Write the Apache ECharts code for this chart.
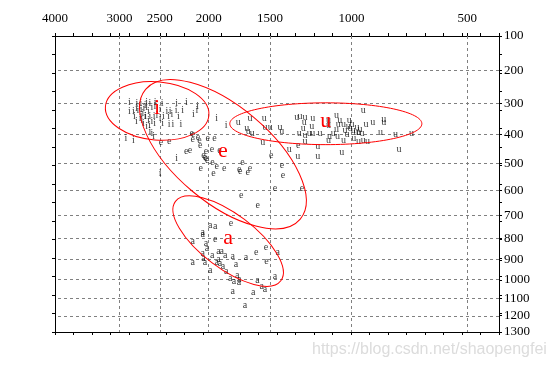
<!DOCTYPE html>
<html><head><meta charset="utf-8">
<script src="https://cdn.jsdelivr.net/npm/echarts@6/dist/echarts.min.js"></script>
<style>html,body{margin:0;padding:0;background:#fff}#c{width:554px;height:369px}</style>
</head><body><div id="c"></div>
<script>
// Formant values on a Bark scale (Schroeder: z = 7*asinh(f/650)); F2 horizontal, F1 vertical.
const iF2 = [15.33,15.10,14.98,14.80,14.70,14.54,14.33,13.88,13.58,13.24,13.26,15.33,15.21,15.07,14.97,14.89,14.80,14.64,14.55,14.39,14.18,14.08,13.90,13.70,13.37,14.97,14.83,14.70,14.57,14.75,14.64,14.56,14.90,14.80,15.12,15.00,15.18,13.83,14.03,14.13,14.29,13.75,14.00,14.11,14.39,14.31,12.65,12.36,15.44,15.21,14.70,14.64,14.59,13.88,14.39,14.85,14.92,14.75,15.02,14.85,15.12,14.95,14.72,14.49];
const iF1 = [3.10,3.13,3.13,3.11,3.13,3.10,3.13,3.13,3.10,3.23,3.33,3.36,3.36,3.33,3.31,3.28,3.26,3.26,3.23,3.31,3.38,3.38,3.34,3.34,3.46,3.49,3.54,3.52,3.54,3.64,3.69,3.74,3.74,3.84,3.69,3.59,3.52,3.52,3.46,3.54,3.54,3.76,3.76,3.77,3.59,3.74,3.59,3.79,4.20,4.25,3.97,4.04,4.13,4.80,5.27,3.54,3.42,3.38,3.23,3.18,3.28,3.64,3.79,3.49];
const eF2 = [13.37,13.39,13.23,13.18,12.93,12.72,14.36,14.11,13.59,13.47,13.16,12.98,12.80,12.57,13.06,12.98,12.78,12.65,13.14,12.75,12.42,11.96,11.86,11.93,11.70,11.63,10.98,10.65,10.62,10.86,12.94,13.01,13.42,10.15,10.03,11.90,11.39,12.21,12.70,11.44,11.14,11.12];
const eF1 = [4.08,4.22,4.18,4.27,4.20,4.20,4.32,4.30,4.58,4.55,4.40,4.59,4.52,4.55,4.73,4.81,4.93,5.06,5.11,5.25,5.11,5.13,4.92,5.19,5.24,5.11,4.71,5.01,5.33,5.72,4.88,4.78,4.04,4.40,5.72,5.95,6.23,6.79,7.28,7.69,7.53,7.95];
const uF2 = [11.99,11.63,11.19,11.17,11.01,11.68,11.56,10.71,10.65,11.24,10.19,10.09,9.94,9.70,9.96,9.73,9.99,10.12,9.94,9.81,9.70,9.94,9.48,9.19,9.22,9.22,8.97,8.92,8.76,8.61,8.97,9.07,8.94,8.76,8.58,8.56,8.46,8.37,8.30,8.25,8.44,8.30,8.15,8.07,7.86,7.52,7.52,7.62,7.16,6.67,7.05,8.02,8.15,9.22,9.55,9.55,8.81,10.42,10.16,11.73,8.71,8.50,8.34,8.19,8.65,8.87];
const uF1 = [3.72,3.59,3.59,3.86,3.86,3.97,4.03,3.86,3.97,4.32,3.57,3.52,3.57,3.59,3.72,3.84,3.89,4.04,4.10,4.03,4.04,4.30,4.04,4.13,3.66,3.79,3.49,3.77,3.77,3.84,3.92,4.03,4.13,4.25,3.66,3.89,3.94,4.00,4.00,3.92,4.20,4.28,3.33,3.76,3.71,3.62,3.71,4.00,4.08,4.04,4.53,4.30,4.27,4.27,4.45,4.76,4.61,4.53,4.74,3.89,3.94,3.76,3.85,4.04,4.07,3.64];
const aF2 = [12.85,12.70,13.08,13.08,13.39,12.98,13.08,13.06,13.39,12.60,12.50,12.39,12.16,12.60,12.55,12.46,12.65,12.06,11.75,12.36,12.85,12.24,12.02,11.96,11.97,12.12,12.16,11.53,11.78,11.27,11.17,10.86,10.78,11.40,12.95,12.79,13.01];
const aF1 = [6.85,6.88,7.08,7.13,7.33,7.40,7.71,7.86,7.97,7.63,7.66,7.76,7.79,7.88,8.00,8.10,7.97,8.04,7.84,8.27,8.24,8.46,8.39,8.49,8.60,8.55,8.86,8.91,9.29,8.71,8.81,8.42,7.69,8.53,7.55,7.76,7.98];

// Vowel ellipses (centre in Bark, semi-axes in Bark, tilt in degrees clockwise on screen)
const vowelNames   = ['i', 'e', 'u', 'a'];
const ellipseF2    = [14.48, 12.46, 9.30, 12.30];
const ellipseF1    = [3.36, 4.68, 3.75, 7.33];
const ellipseMajor = [1.59, 3.09, 2.94, 2.02];
const ellipseMinor = [0.89, 1.47, 0.64, 0.83];
const ellipseTilt  = [5, 40, 0, 37];

// Tick labels (Hz) and axis ranges (Hz)
const f2Labels = [4000, 3000, 2500, 2000, 1500, 1000, 500];
const f1Labels = [100, 200, 300, 400, 500, 600, 700, 800, 900, 1000, 1100, 1200, 1300];
const f2RangeHz = [390, 4000];
const f1RangeHz = [100, 1300];
const f2MinorDivisions = 24;
const f1MinorDivisions = 16;

function bark(f) { return 7 * Math.asinh(f / 650); }
const xMin = bark(f2RangeHz[0]), xMax = bark(f2RangeHz[1]);
const yMin = bark(f1RangeHz[0]), yMax = bark(f1RangeHz[1]);
function uniform(a, b, n) { const r = []; for (let k = 0; k <= n; k++) r.push(a + (b - a) * k / n); return r; }
const xMinor = uniform(xMin, xMax, f2MinorDivisions);
const yMinor = uniform(yMin, yMax, f1MinorDivisions);
const xLab = f2Labels.map(bark), yLab = f1Labels.map(bark);
function nearestLabel(v, labs) {
  let best = labs[0], bd = Infinity;
  labs.forEach(l => { const d = Math.abs(bark(l) - v); if (d < bd) { bd = d; best = l; } });
  return String(best);
}
const inside = (v, a, b) => v > a + 1e-6 && v < b - 1e-6;

const serif = '"Liberation Serif", "Times New Roman", serif';
const axisCommon = {
  type: 'value', splitLine: { show: false },
  axisLine: { show: true, onZero: false, lineStyle: { color: '#000', width: 1 } },
  axisTick: { show: true, inside: false, length: 3, lineStyle: { color: '#000', width: 1 } }
};

function vowelSeries(name, xs, ys, extra) {
  return Object.assign({
    type: 'scatter', name: name, xAxisIndex: 0, yAxisIndex: 0, silent: true,
    symbol: 'circle', symbolSize: 1, itemStyle: { color: 'rgba(0,0,0,0)' },
    label: { show: true, position: 'inside', formatter: name, color: '#000', fontFamily: serif, fontSize: 10 },
    data: xs.map((x, i) => [x, ys[i]]), z: 3
  }, extra || {});
}

const chart = echarts.init(document.getElementById('c'), null, { renderer: 'canvas' });
chart.setOption({
  animation: false,
  backgroundColor: '#fff',
  grid: { left: 55, right: 55, top: 36, bottom: 37, containLabel: false },
  xAxis: [
    Object.assign({}, axisCommon, {
      position: 'top', min: xMin, max: xMax, inverse: true,
      axisTick: Object.assign({}, axisCommon.axisTick, { customValues: xMinor.concat(xLab) }),
      axisLabel: { show: true, customValues: xLab, formatter: v => nearestLabel(v, f2Labels), margin: 11, color: '#000', fontFamily: serif, fontSize: 13 }
    }),
    Object.assign({}, axisCommon, {
      position: 'bottom', min: xMin, max: xMax, inverse: true,
      axisTick: Object.assign({}, axisCommon.axisTick, { customValues: xMinor }),
      axisLabel: { show: false }
    })
  ],
  yAxis: [
    Object.assign({}, axisCommon, {
      position: 'right', min: yMin, max: yMax, inverse: true,
      axisTick: Object.assign({}, axisCommon.axisTick, { customValues: yMinor.concat(yLab) }),
      axisLabel: { show: true, customValues: yLab, formatter: v => nearestLabel(v, f1Labels), margin: 5, color: '#000', fontFamily: serif, fontSize: 13 }
    }),
    Object.assign({}, axisCommon, {
      position: 'left', min: yMin, max: yMax, inverse: true,
      axisTick: Object.assign({}, axisCommon.axisTick, { customValues: yMinor }),
      axisLabel: { show: false }
    })
  ],
  series: [
    vowelSeries('i', iF2, iF1, {
      markLine: {
        silent: true, symbol: ['none', 'none'], label: { show: false }, z: 2,
        lineStyle: { color: '#808080', width: 1, type: [3, 3] },
        data: xLab.filter(v => inside(v, xMin, xMax)).map(v => ({ xAxis: v }))
          .concat(yLab.filter(v => inside(v, yMin, yMax)).map(v => ({ yAxis: v })))
      }
    }),
    vowelSeries('e', eF2, eF1),
    vowelSeries('u', uF2, uF1),
    vowelSeries('a', aF2, aF1),
    {
      type: 'custom', xAxisIndex: 0, yAxisIndex: 0, silent: true, z: 4,
      data: vowelNames.map((n, k) => [ellipseF2[k], ellipseF1[k], ellipseMajor[k], ellipseMinor[k], ellipseTilt[k]]),
      renderItem: function (params, api) {
        const c = api.coord([api.value(0), api.value(1)]);
        const s = api.size([1, 1]);
        const k = (Math.abs(s[0]) + Math.abs(s[1])) / 2;
        const rot = -api.value(4) * Math.PI / 180;
        return {
          type: 'group', children: [
            { type: 'ellipse', x: c[0], y: c[1], rotation: rot,
              shape: { cx: 0, cy: 0, rx: api.value(2) * k, ry: api.value(3) * k },
              style: { fill: 'none', stroke: '#ff0000', lineWidth: 1 } },
            { type: 'text', x: c[0], y: c[1] - 3,
              style: { text: vowelNames[params.dataIndex], fill: '#ff0000', font: '22px ' + serif, align: 'center', verticalAlign: 'middle' } }
          ]
        };
      }
    }
  ],
  graphic: [{
    type: 'text', left: 312, top: 342, silent: true,
    style: { text: 'https://blog.csdn.net/shaopengfei', fill: '#dcdcdc', font: '16px "Liberation Sans", Arial, sans-serif' }
  }]
});
</script></body></html>
